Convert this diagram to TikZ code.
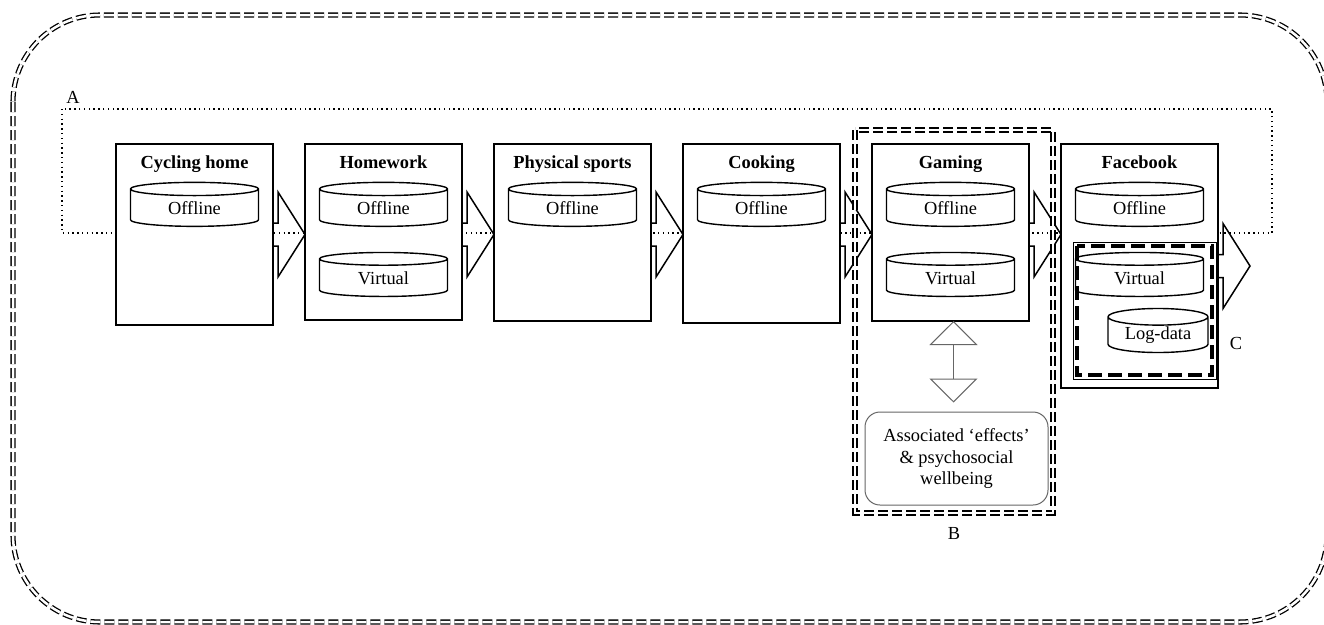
\documentclass[tikz,border=0pt]{standalone}
\usepackage{fontspec}
\setmainfont{Liberation Serif}
\usetikzlibrary{positioning,shapes.geometric,arrows.meta,calc}
\newcommand{\diagfont}{\fontsize{18.4pt}{21.7pt}\selectfont}
\newcommand{\stepout}[2]{\draw[flow] ($(#1.north east)+(0,#2-11.5)$) -- ++(5,0) -- ++(0,-31) -- ++(27,42.5) -- ++(-27,42.5) -- ++(0,-31) -- ++(-5,0);}

\begin{document}
\begin{tikzpicture}[x=1pt,y=-1pt,
    every node/.style={font=\diagfont},
    actbox/.style={draw,line width=1.9pt,fill=white,minimum width=157pt,anchor=north west,inner sep=0pt,outer sep=0pt},
    ttl/.style={font=\diagfont\bfseries,anchor=base},
    store/.style={draw,line width=1.4pt,fill=white,cylinder,shape border rotate=90,aspect=0.25,minimum width=128pt,minimum height=44pt,inner sep=0pt,outer sep=0pt},
    flow/.style={line width=1.5pt,line join=miter},
    framed/.style={draw,double,double distance=2.5pt,line width=1.3pt,dash pattern=on 10pt off 4pt}]
  \useasboundingbox (0,0) rectangle (1324,624);

  \draw[framed,rounded corners=87pt] (13,15) rectangle (1327,622);
  \draw[line width=1.4pt,dash pattern=on 1.4pt off 3.4pt] (62,109) rectangle (1272,233);
  \node (lblA) at (73,97) {A};

  \node[actbox,minimum height=181pt] (cyc) at (116,144) {};
  \node[actbox,minimum height=176pt,right=32pt of cyc.north east,anchor=north west] (hw) {};
  \node[actbox,minimum height=177pt,right=32pt of hw.north east,anchor=north west] (phy) {};
  \node[actbox,minimum height=179pt,right=32pt of phy.north east,anchor=north west] (cook) {};
  \node[actbox,minimum height=177pt,right=32pt of cook.north east,anchor=north west] (gam) {};
  \node[actbox,minimum height=244pt,right=32pt of gam.north east,anchor=north west] (fb) {};

  \node[ttl] at ([yshift=-24pt]cyc.north) {Cycling home};
  \node[ttl] at ([yshift=-24pt]hw.north) {Homework};
  \node[ttl] at ([yshift=-24pt]phy.north) {Physical sports};
  \node[ttl] at ([yshift=-24pt]cook.north) {Cooking};
  \node[ttl] at ([yshift=-24pt]gam.north) {Gaming};
  \node[ttl] at ([yshift=-24pt]fb.north) {Facebook};

  \foreach \a in {cyc,hw,phy,cook,gam} {\stepout{\a}{90.5}}
  \stepout{fb}{122}

  \node[store] (cycoff) at ([yshift=-64pt]cyc.north) {Offline};
  \node[store] (hwoff) at ([yshift=-64pt]hw.north) {Offline};
  \node[store] (hwvir) at ([yshift=-134pt]hw.north) {Virtual};
  \node[store] (phyoff) at ([yshift=-64pt]phy.north) {Offline};
  \node[store] (cookoff) at ([yshift=-64pt]cook.north) {Offline};
  \node[store] (gamoff) at ([yshift=-64pt]gam.north) {Offline};
  \node[store] (gamvir) at ([yshift=-134pt]gam.north) {Virtual};
  \node[store] (fboff) at ([yshift=-64pt]fb.north) {Offline};
  \node[store] (fbvir) at ([yshift=-134pt]fb.north) {Virtual};
  \node[store,minimum width=100pt] (fblog) at ([xshift=18.5pt,yshift=-191pt]fb.north) {Log-data};

  \draw[line width=1pt] (1073,242) rectangle (1216,379);
  \draw[line width=3.5pt,dash pattern=on 14pt off 6pt] (1077,246) rectangle (1212,375);
  \node (lblC) at (1236,343) {C};

  \draw[framed] (855,130) rectangle (1053,513);
  \node[draw=black!60,line width=1pt,rounded corners=15pt,minimum width=183pt,minimum height=93pt,align=center] (assoc) at (956.5,458.5) {Associated `effects'\\ \& psychosocial\\ wellbeing};
  \draw[black!60,line width=1pt,shorten >=9pt,{Triangle[open,length=24pt,width=48pt]}-{Triangle[open,length=24pt,width=48pt]}] ([xshift=3pt]gam.south) -- ([xshift=3pt]gam.south |- assoc.north);
  \node (lblB) at (954,533) {B};
\end{tikzpicture}
\end{document}
